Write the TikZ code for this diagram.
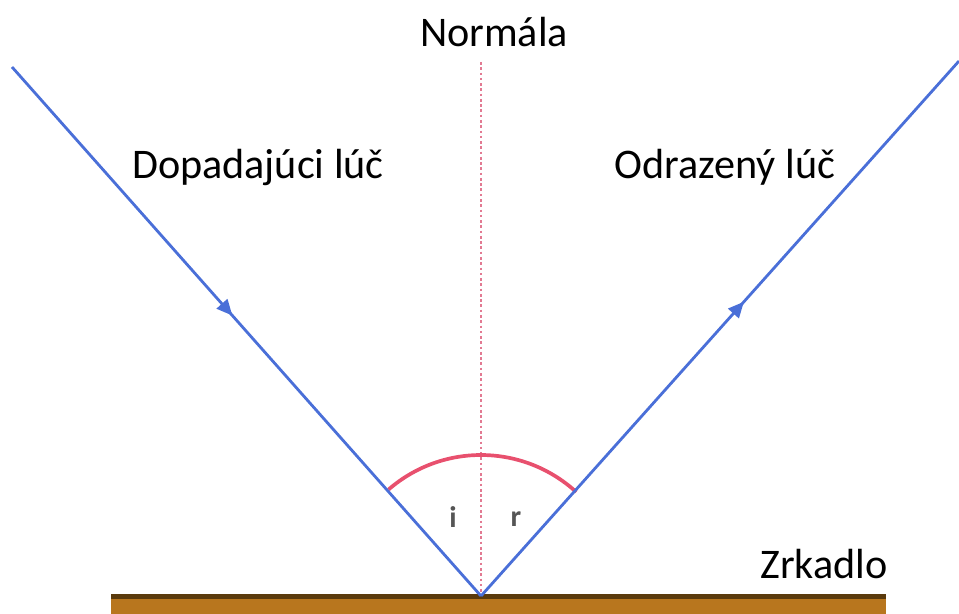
\documentclass[tikz,border=0pt]{standalone}
\usepackage{fontspec}
\setmainfont{Carlito}
\usetikzlibrary{arrows.meta,decorations.markings,calc}
\definecolor{RayBlue}{HTML}{4A6FD8}
\definecolor{ArcPink}{HTML}{E8506E}
\definecolor{NormPink}{HTML}{E27A92}
\definecolor{MirrorDark}{HTML}{5A3A0C}
\definecolor{MirrorFill}{HTML}{B8761E}
\definecolor{AngleGray}{HTML}{555555}

\begin{document}
\begin{tikzpicture}[x=0.02cm,y=-0.02cm]
    \tikzset{
      ray/.style={draw=RayBlue,line width=1.6pt},
      rayarrow/.style={ray,postaction={decorate},decoration={markings,
        mark=at position #1 with {\arrow{Triangle[length=9pt,width=8pt]}}}},
      label/.style={font=\fontsize{24}{28}\selectfont,anchor=base},
      anglelabel/.style={font=\fontsize{17}{20}\selectfont\bfseries,text=AngleGray}}
    \useasboundingbox (0,0) rectangle (959,614);
    % mirror
    \fill[MirrorFill] (111,597) rectangle (886,614);
    \fill[MirrorDark] (111,594) rectangle (886,599);
    % points
    \coordinate (hit) at (481,596);
    \coordinate (inc) at (12,67);
    \coordinate (refl) at (959,61);
    \coordinate (top) at (481,62);
    % normal
    \draw[NormPink,line width=1.3pt,dash pattern=on 1.5pt off 1.5pt] (top) -- (hit);
    % angle arc (y axis points down, so angles are negative)
    \draw[ArcPink,line width=2.1pt] ($(hit)+(-131:141)$) arc[start angle=-131,end angle=-47.5,radius=141];
    % rays
    \draw[rayarrow=0.47] (inc) -- (hit);
    \draw[rayarrow=0.55] (hit) -- (refl);
    % labels
    \node[label] (normal) at (494,47) {Normála};
    \node[label] (incl) at (258,179) {Dopadajúci lúč};
    \node[label] (refll) at (725,179) {Odrazený lúč};
    \node[label] (mirror) at (824,578) {Zrkadlo};
    \node[anglelabel] (i) at (453,517) {i};
    \node[anglelabel] (r) at (516,519) {r};
\end{tikzpicture}
\end{document}
